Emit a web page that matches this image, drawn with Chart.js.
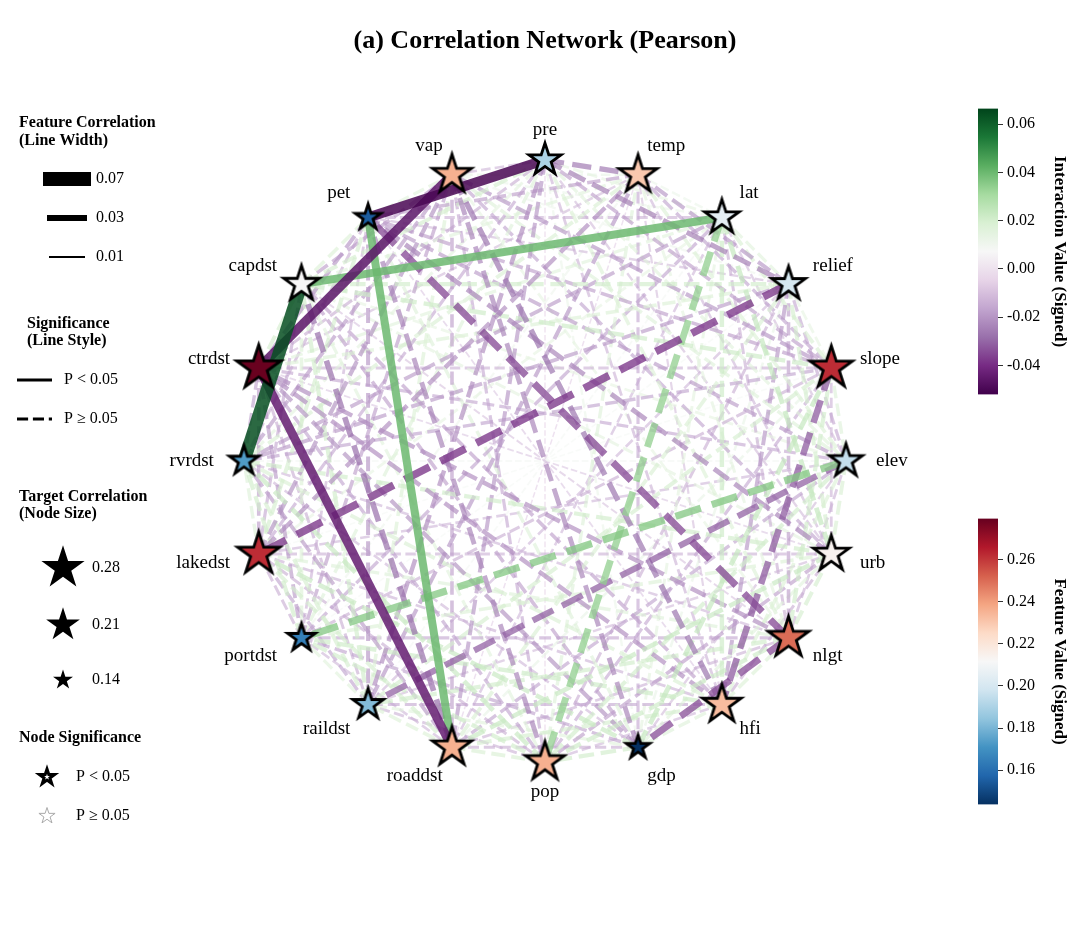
<!DOCTYPE html>
<html>
<head>
<meta charset="utf-8">
<script src="https://cdn.jsdelivr.net/npm/chart.js@4.4.0/dist/chart.umd.min.js"></script>
<style>
  body { margin: 0; background: #fff; }
  #wrap { position: relative; width: 1080px; height: 926px; }
  canvas { position: absolute; }
</style>
</head>
<body>
<div id="wrap">
  <canvas id="net" width="1080" height="926" style="left:0;top:0"></canvas>
  <canvas id="cb-edge" width="106" height="313" style="left:968px;top:95px"></canvas>
  <canvas id="cb-node" width="106" height="313" style="left:968px;top:505px"></canvas>
</div>
<script>
/* ── Data ── */
const NODE_NAMES  = ['pre', 'temp', 'lat', 'relief', 'slope', 'elev', 'urb', 'nlgt', 'hfi', 'gdp',
                     'pop', 'roaddst', 'raildst', 'portdst', 'lakedst', 'rvrdst', 'ctrdst', 'capdst', 'pet', 'vap'];
// target correlation of each feature (colour + size)
const NODE_VALUES = [0.190, 0.230, 0.205, 0.200, 0.262, 0.195, 0.214, 0.250, 0.233, 0.144,
                     0.236, 0.236, 0.182, 0.165, 0.262, 0.173, 0.279, 0.212, 0.155, 0.236];
const NODE_SIGNIFICANT = [true, true, true, true, true, true, true, true, true, true,
                          true, true, true, true, true, true, true, true, true, true];

// pairwise interaction values x 1000, upper triangle: row i holds pairs (i, i+1 .. 19)
const EDGE_MILLI = [
  [-26, 14, -25, -18, 16, -12, 18, -14, 12, -6, -20, -22, 17, -16, 15, -15, 20, -50, -13],
  [12, -20, -17, 18, -13, 15, -11, -16, 17, -7, -20, 11, -22, 19, -12, 16, -18, 13],
  [16, 19, -12, 24, -15, 22, 15, 34, -13, 9, -17, 14, -19, 16, 40, -14, 12],
  [14, -16, 20, -18, -20, 13, -15, 19, -13, 8, -38, -19, 18, 21, -12, 11],
  [17, -14, 21, -32, 24, -16, 13, 20, -15, 8, -17, -14, 22, -18, -20],
  [19, -14, 18, -12, 21, -17, -31, 36, -13, 9, -16, 14, -19, 17],
  [20, -15, 16, -18, 23, -12, 18, -14, 21, -9, 15, -24, -17],
  [18, -34, 22, -14, 21, -16, 17, -13, -22, -10, -35, 14],
  [17, -13, 20, -16, 22, -14, 19, -22, -18, -9, -27],
  [21, -15, 16, -17, 23, -13, -21, -18, 17, -24],
  [19, -14, 21, -15, 23, -17, 16, -24, -16],
  [18, -13, 20, -19, -44, -28, 40, -18],
  [16, -17, 20, -15, 21, -20, 18],
  [-15, 21, -19, 18, -14, -18],
  [17, -18, -16, 20, -21],
  [-17, 64, -15, -19],
  [20, -20, -46],
  [18, -18],
  [16],
];
// pairs with P < 0.05
const SIG_EDGES = [[15, 17], [0, 18], [16, 19], [11, 16], [11, 18], [2, 17]];

const EDGE_RANGE = [-0.052, 0.0665];
const NODE_RANGE = [0.1438, 0.2794];
const EDGE_TICKS = [-0.04, -0.02, 0.00, 0.02, 0.04, 0.06];
const NODE_TICKS = [0.16, 0.18, 0.20, 0.22, 0.24, 0.26];
const WIDTH_LEGEND = [0.07, 0.03, 0.01];
const SIZE_LEGEND  = [0.28, 0.21, 0.14];

/* ── Constants ── */
const SERIF = '"Liberation Serif", "Times New Roman", serif';
const PRGN   = ['#40004b', '#762a83', '#9970ab', '#c2a5cf', '#e7d4e8', '#f7f7f7',
                '#d9f0d3', '#a6dba0', '#5aae61', '#1b7837', '#00441b'];
const RDBU_R = ['#053061', '#2166ac', '#4393c3', '#92c5de', '#d1e5f0', '#f7f7f7',
                '#fddbc7', '#f4a582', '#d6604d', '#b2182b', '#67001f'];

Chart.defaults.font.family = SERIF;
Chart.defaults.color = '#000';

/* ── Helpers ── */
const hexRgb = h => [1, 3, 5].map(k => parseInt(h.slice(k, k + 2), 16));
function cmap(stops, t) {
  t = Math.min(1, Math.max(0, t));
  const p = t * (stops.length - 1);
  const k = Math.min(stops.length - 2, Math.floor(p));
  const f = p - k;
  const a = hexRgb(stops[k]), b = hexRgb(stops[k + 1]);
  return a.map((c, m) => Math.round(c + (b[m] - c) * f));
}
const rgba = (c, a) => `rgba(${c[0]},${c[1]},${c[2]},${a})`;
const norm = (v, r) => (v - r[0]) / (r[1] - r[0]);
const legendRadius = v => Math.sqrt(110 + (v - 0.14) * 2900);
const nodeRadius   = v => Math.sqrt(140 + (v - 0.14) * 2900);

function starPath(g, cx, cy, R) {
  const r = R * 0.381966;
  g.beginPath();
  for (let k = 0; k < 10; k++) {
    const a = -Math.PI / 2 + k * Math.PI / 5;
    const rr = k % 2 ? r : R;
    g.lineTo(cx + rr * Math.cos(a), cy + rr * Math.sin(a));
  }
  g.closePath();
}

function drawStar(g, cx, cy, R, fill, stroke, lw) {
  g.save();
  starPath(g, cx, cy, R);
  g.fillStyle = fill;
  g.fill();
  if (lw) {
    g.lineWidth = lw;
    g.strokeStyle = stroke;
    g.lineJoin = 'miter';
    g.miterLimit = 10;
    g.stroke();
  }
  g.restore();
}

function starCanvas(R, fill, stroke, lw) {
  const pad = Math.ceil(lw * 2 + 2);
  const size = Math.ceil(2 * R + 2 * pad);
  const c = document.createElement('canvas');
  c.width = c.height = size;
  drawStar(c.getContext('2d'), size / 2, size / 2, R, fill, stroke, lw);
  return c;
}

/* ── Layout of nodes on the circle ── */
const N = NODE_NAMES.length;
const pos = NODE_NAMES.map((_, i) => {
  const a = 2 * Math.PI * i / N;
  return { x: Math.sin(a), y: Math.cos(a) };
});

/* ── Edge datasets ── */
const edges = [];
EDGE_MILLI.forEach((row, i) => row.forEach((m, k) => {
  const j = i + k + 1;
  edges.push({ i, j, v: m / 1000, sig: SIG_EDGES.some(([a, b]) => a === i && b === j) });
}));
edges.sort((a, b) => Math.abs(b.v) - Math.abs(a.v));

const edgeSets = edges.map((e, r) => {
  const w = Math.max(1.5, 200 * Math.abs(e.v));
  const alpha = e.sig ? 0.85 : 0.5 + 0.3 * Math.min(1, Math.abs(e.v) / 0.04);
  return {
    data: [{ ...pos[e.i] }, { ...pos[e.j] }],
    showLine: true,
    pointRadius: 0,
    pointHoverRadius: 0,
    borderColor: rgba(cmap(PRGN, norm(e.v, EDGE_RANGE)), alpha),
    borderWidth: w,
    borderDash: e.sig ? [] : [3.7 * w, 1.6 * w],
    borderCapStyle: 'butt',
    order: r + 1,
  };
});

const nodeSet = {
  data: pos.map(p => ({ ...p })),
  pointStyle: NODE_VALUES.map((v, i) => starCanvas(
    nodeRadius(v),
    rgba(cmap(RDBU_R, norm(v, NODE_RANGE)), 1),
    NODE_SIGNIFICANT[i] ? '#000' : '#aaa',
    NODE_SIGNIFICANT[i] ? 2.8 : 1)),
  pointRadius: NODE_VALUES.map(nodeRadius),
  showLine: false,
  order: 0,
};

/* ── Node labels ── */
const nodeLabels = {
  id: 'nodeLabels',
  afterDatasetsDraw(chart) {
    const { ctx, scales: { x, y } } = chart;
    ctx.save();
    ctx.font = '19px ' + SERIF;
    ctx.fillStyle = '#000';
    ctx.textBaseline = 'middle';
    NODE_NAMES.forEach((name, i) => {
      const a = 2 * Math.PI * i / N;
      const s = Math.sin(a);
      ctx.textAlign = Math.abs(s) < 0.01 ? 'center' : (s > 0 ? 'left' : 'right');
      ctx.fillText(name, x.getPixelForValue(1.1 * s), y.getPixelForValue(1.1 * Math.cos(a)));
    });
    ctx.restore();
  },
};

/* ── Title + left legends ── */
const sideLegend = {
  id: 'sideLegend',
  afterDraw(chart) {
    const ctx = chart.ctx;
    const text = (s, x, y, font, align) => {
      ctx.font = font;
      ctx.fillStyle = '#000';
      ctx.textAlign = align || 'left';
      ctx.fillText(s, x, y);
    };
    const BOLD = 'bold 16px ' + SERIF;
    const REG  = '16px ' + SERIF;
    ctx.save();
    ctx.strokeStyle = '#000';
    ctx.textBaseline = 'middle';

    text('(a) Correlation Network (Pearson)', 545, 41, 'bold 26px ' + SERIF, 'center');

    // line width
    text('Feature Correlation', 19, 123, BOLD);
    text('(Line Width)', 19, 141, BOLD);
    WIDTH_LEGEND.forEach((v, k) => {
      const yy = 179 + k * 39;
      ctx.lineWidth = 200 * v;
      ctx.lineCap = 'square';
      ctx.setLineDash([]);
      ctx.beginPath(); ctx.moveTo(50, yy); ctx.lineTo(84, yy); ctx.stroke();
      text(v.toFixed(2), 96, yy, REG);
    });

    // line style
    text('Significance', 27, 324, BOLD);
    text('(Line Style)', 27, 341, BOLD);
    ctx.lineWidth = 3;
    ctx.lineCap = 'butt';
    ctx.beginPath(); ctx.moveTo(17, 380); ctx.lineTo(52, 380); ctx.stroke();
    text('P < 0.05', 64, 380, REG);
    ctx.setLineDash([11.1, 4.8]);
    ctx.beginPath(); ctx.moveTo(17, 419); ctx.lineTo(52, 419); ctx.stroke();
    ctx.setLineDash([]);
    text('P \u2265 0.05', 64, 419, REG);

    // node size
    text('Target Correlation', 19, 497, BOLD);
    text('(Node Size)', 19, 514, BOLD);
    [568, 625, 680].forEach((yy, k) => {
      drawStar(ctx, 63, yy, legendRadius(SIZE_LEGEND[k]), '#000', '#000', 0);
      text(SIZE_LEGEND[k].toFixed(2), 92, yy, REG);
    });

    // node significance
    text('Node Significance', 19, 738, BOLD);
    drawStar(ctx, 47, 777, 8, '#fff', '#000', 3);
    text('P < 0.05', 76, 777, REG);
    drawStar(ctx, 47, 816, 8.5, '#fff', '#aaa', 1);
    text('P \u2265 0.05', 76, 816, REG);
    ctx.restore();
  },
};

/* ── Network chart ── */
new Chart(document.getElementById('net'), {
  type: 'scatter',
  plugins: [nodeLabels, sideLegend],
  data: { datasets: [nodeSet, ...edgeSets] },
  options: {
    responsive: false,
    animation: false,
    layout: { padding: { left: 153.7, right: 143.7, top: 69.7, bottom: 73.7 } },
    plugins: { legend: { display: false }, tooltip: { enabled: false } },
    scales: {
      x: { display: false, min: -1.3, max: 1.3 },
      y: { display: false, min: -1.3, max: 1.3 },
    },
  },
});

/* ── Colour bars ── */
function drawColorbar(id, stops, range, ticks, title) {
  new Chart(document.getElementById(id), {
    type: 'bar',
    data: {
      labels: [''],
      datasets: [{
        data: [range],
        barPercentage: 1,
        categoryPercentage: 1,
        borderWidth: 0,
        backgroundColor: c => {
          const area = c.chart.chartArea;
          if (!area) return stops[0];
          const g = c.chart.ctx.createLinearGradient(0, area.bottom, 0, area.top);
          stops.forEach((s, k) => g.addColorStop(k / (stops.length - 1), s));
          return g;
        },
      }],
    },
    options: {
      responsive: false,
      animation: false,
      layout: { padding: { left: 10, top: 10, bottom: 10, right: 0 } },
      plugins: { legend: { display: false }, tooltip: { enabled: false } },
      scales: {
        x: { display: false },
        y: {
          position: 'right',
          min: range[0],
          max: range[1],
          afterBuildTicks: s => { s.ticks = ticks.map(v => ({ value: v })); },
          afterFit: s => { s.width = 76; },
          border: { display: false },
          grid: { drawOnChartArea: false, drawTicks: true, tickLength: 5, color: '#333' },
          ticks: { font: { size: 16 }, color: '#000', padding: 4, callback: v => Number(v).toFixed(2) },
          title: { display: true, text: title, font: { size: 17, weight: 'bold' }, color: '#000' },
        },
      },
    },
  });
}

drawColorbar('cb-edge', PRGN,   EDGE_RANGE, EDGE_TICKS, 'Interaction Value (Signed)');
drawColorbar('cb-node', RDBU_R, NODE_RANGE, NODE_TICKS, 'Feature Value (Signed)');
</script>
</body>
</html>
